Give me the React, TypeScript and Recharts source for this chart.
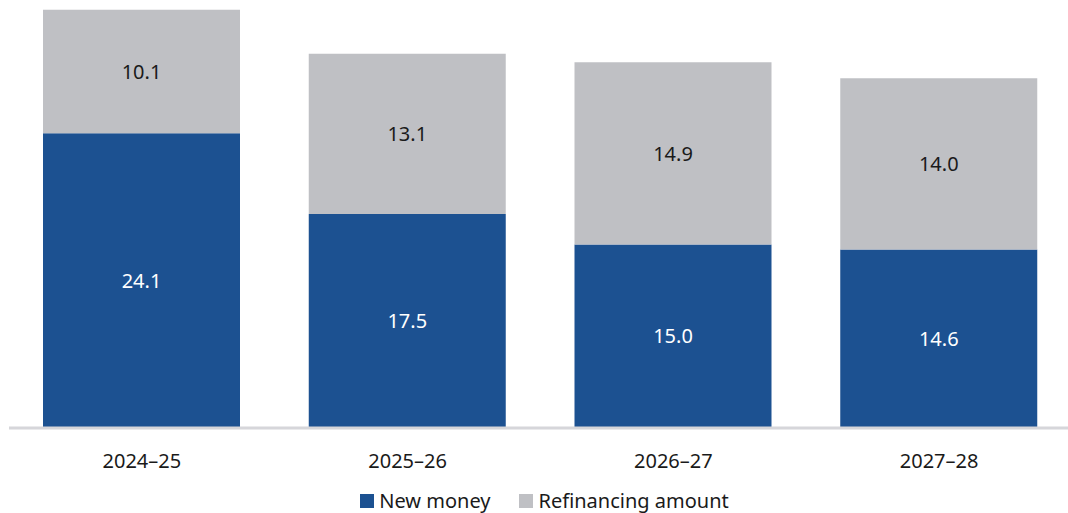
import { Bar, BarChart, LabelList, Legend, XAxis, YAxis } from 'recharts';

const years = ['2024–25', '2025–26', '2026–27', '2027–28'];
const newMoney = [24.1, 17.5, 15.0, 14.6];
const refinancing = [10.1, 13.1, 14.9, 14.0];

const data = years.map((year, i) => ({
  year,
  newMoney: newMoney[i],
  refinancing: refinancing[i],
}));

const BLUE = '#1c5191';
const GREY = '#bfc0c4';
const FONT = '"Noto Sans", "Open Sans", sans-serif';

function LegendContent() {
  const items = [
    { label: 'New money', color: BLUE },
    { label: 'Refinancing amount', color: GREY },
  ];
  return (
    <div
      style={{
        display: 'flex',
        justifyContent: 'center',
        alignItems: 'center',
        gap: 29,
        paddingLeft: 8,
        paddingTop: 14,
        fontFamily: FONT,
        fontSize: 20,
        color: '#1a1a1a',
      }}
    >
      {items.map((it) => (
        <div key={it.label} style={{ display: 'flex', alignItems: 'center' }}>
          <span style={{ width: 14, height: 14, background: it.color, marginRight: 5 }} />
          <span>{it.label}</span>
        </div>
      ))}
    </div>
  );
}

export default function App() {
  return (
    <div
      style={{
        position: 'absolute',
        left: 0,
        top: 0,
        width: 1068,
        height: 513,
        overflow: 'hidden',
        background: '#fff',
      }}
    >
      <BarChart
        width={1072}
        height={513}
        data={data}
        margin={{ top: 0, right: 0, left: 9, bottom: 0 }}
        barSize={197}
      >
        <YAxis hide domain={[0, 35]} />
        <XAxis
          dataKey="year"
          height={45}
          axisLine={{ stroke: '#d6d6da', strokeWidth: 3 }}
          tickLine={false}
          tickMargin={20}
          tick={{ fontSize: 20, fill: '#1a1a1a', fontFamily: FONT }}
        />
        <Legend verticalAlign="bottom" height={40} content={<LegendContent />} />
        <Bar dataKey="newMoney" stackId="a" fill={BLUE} isAnimationActive={false}>
          <LabelList
            dataKey="newMoney"
            position="center"
            formatter={(v: number) => v.toFixed(1)}
            style={{ fontSize: 20, fill: '#ffffff', fontFamily: FONT }}
          />
        </Bar>
        <Bar dataKey="refinancing" stackId="a" fill={GREY} isAnimationActive={false}>
          <LabelList
            dataKey="refinancing"
            position="center"
            formatter={(v: number) => v.toFixed(1)}
            style={{ fontSize: 20, fill: '#1a1a1a', fontFamily: FONT }}
          />
        </Bar>
      </BarChart>
    </div>
  );
}
